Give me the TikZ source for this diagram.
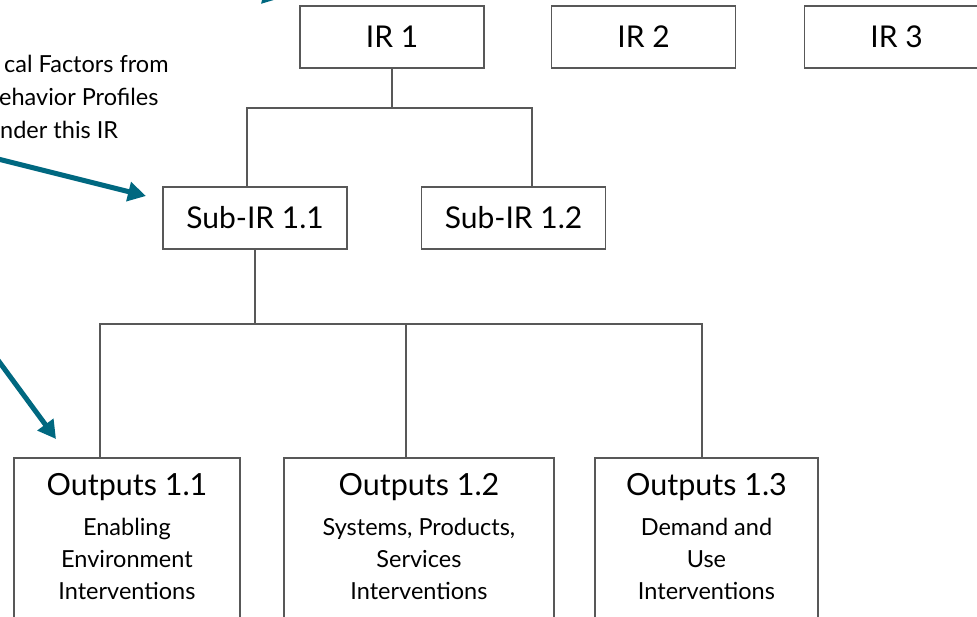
\documentclass[tikz,border=0pt]{standalone}
\usepackage{fontspec}
\setmainfont{Lato}
\usetikzlibrary{arrows.meta}
\definecolor{boxline}{RGB}{88,88,88}
\definecolor{pointerteal}{RGB}{0,104,128}
\begin{document}
\begin{tikzpicture}[x=1pt,y=-1pt,
  box/.style={draw=boxline, line width=1.9pt, minimum width=184pt, minimum height=62pt,
    inner sep=0pt, font=\fontsize{30}{36}\selectfont},
  obox/.style={draw=boxline, line width=1.9pt, minimum height=220pt, anchor=north west, inner sep=0pt},
  otitle/.style={anchor=base, inner sep=0pt, font=\fontsize{30.5}{36}\selectfont},
  osub/.style={anchor=north, inner sep=0pt, align=center, font=\fontsize{23.5}{32}\selectfont},
  note/.style={anchor=base west, inner sep=0pt, font=\fontsize{23.5}{34}\selectfont},
  conn/.style={draw=boxline, line width=1.9pt},
  pointer/.style={draw=pointerteal, line width=5pt, -{Triangle[length=18pt,width=19pt]}}]
\useasboundingbox (0,0) rectangle (977,616);
\clip (0,0) rectangle (977,616);

% top level results
\node[box] (ir1) at (392,37) {IR 1};
\node[box] (ir2) at (643.5,37) {IR 2};
\node[box] (ir3) at (896.5,37) {IR 3};

% sub-results
\node[box] (s11) at (255,218) {Sub-IR 1.1};
\node[box] (s12) at (513.5,218) {Sub-IR 1.2};

% output boxes (run past the lower edge)
\node[obox, minimum width=226pt] (o1) at (13,457) {};
\node[obox, minimum width=270pt] (o2) at (283,457) {};
\node[obox, minimum width=223pt] (o3) at (594,457) {};

\node[otitle] (o1t) at (o1.center |- 0,495) {Outputs 1.1};
\node[otitle] (o2t) at (o2.center |- 0,495) {Outputs 1.2};
\node[otitle] (o3t) at (o3.center |- 0,495) {Outputs 1.3};
\node[osub] (o1s) at (o1.center |- 0,518) {Enabling\\Environment\\Interventions};
\node[osub] (o2s) at (o2.center |- 0,518) {Systems, Products,\\Services\\Interventions};
\node[osub] (o3s) at (o3.center |- 0,518) {Demand and\\Use\\Interventions};

% tree connectors
\coordinate (a11) at (247,108);
\coordinate (a12) at (532,108);
\draw[conn] (ir1.south) -- (ir1.south |- a11);
\draw[conn] (a11 |- s11.north) -- (a11) -- (a12) -- (a12 |- s12.north);

\coordinate (b1) at (100,324);
\coordinate (b2) at (406,324);
\coordinate (b3) at (702,324);
\draw[conn] (s11.south) -- (s11.south |- b1);
\draw[conn] (b1 |- o1.north) -- (b1) -- (b3) -- (b3 |- o3.north);
\draw[conn] (b2) -- (b2 |- o2.north);

% annotation text
\node[note] (n1) at (4,72) {cal Factors from};
\node[note] (n2) at (-1,105) {ehavior Profiles};
\node[note] (n3) at (0,138) {nder this IR};

% pointer arrows
\coordinate (p1s) at (100,-45);
\coordinate (p1e) at (281,-2);
\coordinate (p2s) at (-10,157);
\coordinate (p2e) at (146,196);
\coordinate (p3s) at (-8,352);
\coordinate (p3e) at (56,439);
\draw[pointer] (p1s) -- (p1e);
\draw[pointer] (p2s) -- (p2e);
\draw[pointer] (p3s) -- (p3e);
\end{tikzpicture}
\end{document}
